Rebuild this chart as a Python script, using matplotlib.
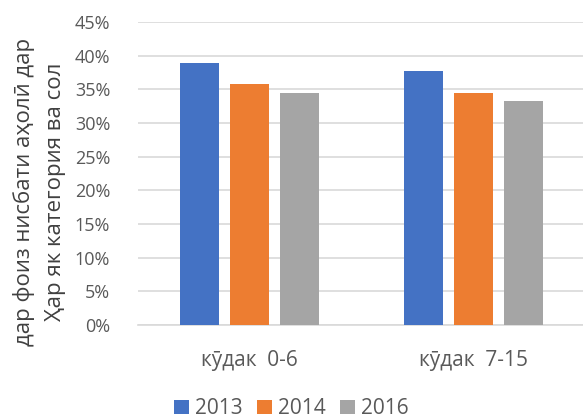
import matplotlib
matplotlib.use('Agg')
import matplotlib.pyplot as plt
import numpy as np

plt.rcParams['font.family'] = ['Open Sans', 'DejaVu Sans']

# data
categories = ["кӯдак  0-6", "кӯдак  7-15"]
years = ["2013", "2014", "2016"]
values_2013 = [38.9, 37.75]
values_2014 = [35.8, 34.5]
values_2016 = [34.5, 33.2]
colors = ["#4472C4", "#ED7D31", "#A5A5A5"]

fig = plt.figure(figsize=(5.83, 4.19), dpi=100)
ax = fig.add_axes([138 / 583, 1 - 325 / 419, 1 - 138 / 583, (325 - 22) / 419])

x = np.arange(len(categories))
width = 0.174
step = 0.223
for i, (vals, yr, col) in enumerate(zip([values_2013, values_2014, values_2016], years, colors)):
    ax.bar(x + (i - 1) * step, vals, width, color=col, label=yr, zorder=3)

ax.set_xlim(-0.5, 1.49)
ax.set_ylim(0, 45)
ax.set_yticks(np.arange(0, 46, 5))
ax.set_yticklabels([f"{v}%" for v in range(0, 46, 5)])
ax.set_xticks(x)
ax.set_xticklabels(categories)
ax.tick_params(axis='both', length=0, colors='#595959')
ax.tick_params(axis='x', pad=18, labelsize=15)
ax.tick_params(axis='y', pad=20, labelsize=13)
ax.grid(axis='y', color='#D9D9D9', linewidth=1.2, zorder=0)
for s in ['top', 'right', 'left']:
    ax.spines[s].set_visible(False)
ax.spines['bottom'].set_color('#D9D9D9')
ax.spines['bottom'].set_linewidth(1.2)

ax.set_ylabel("дар фоиз нисбати аҳолӣ дар\nҲар як категория ва сол", fontsize=16,
              color='#404040', linespacing=1.6)
ax.yaxis.set_label_coords(-0.162, 0.44)

fig.legend(loc='lower center', bbox_to_anchor=(0.5, -0.045), ncol=3, frameon=False,
           fontsize=15, handlelength=0.7, handleheight=0.7, handletextpad=0.3,
           columnspacing=0.7, labelcolor='#595959')

fig.savefig("out.png", dpi=100)
